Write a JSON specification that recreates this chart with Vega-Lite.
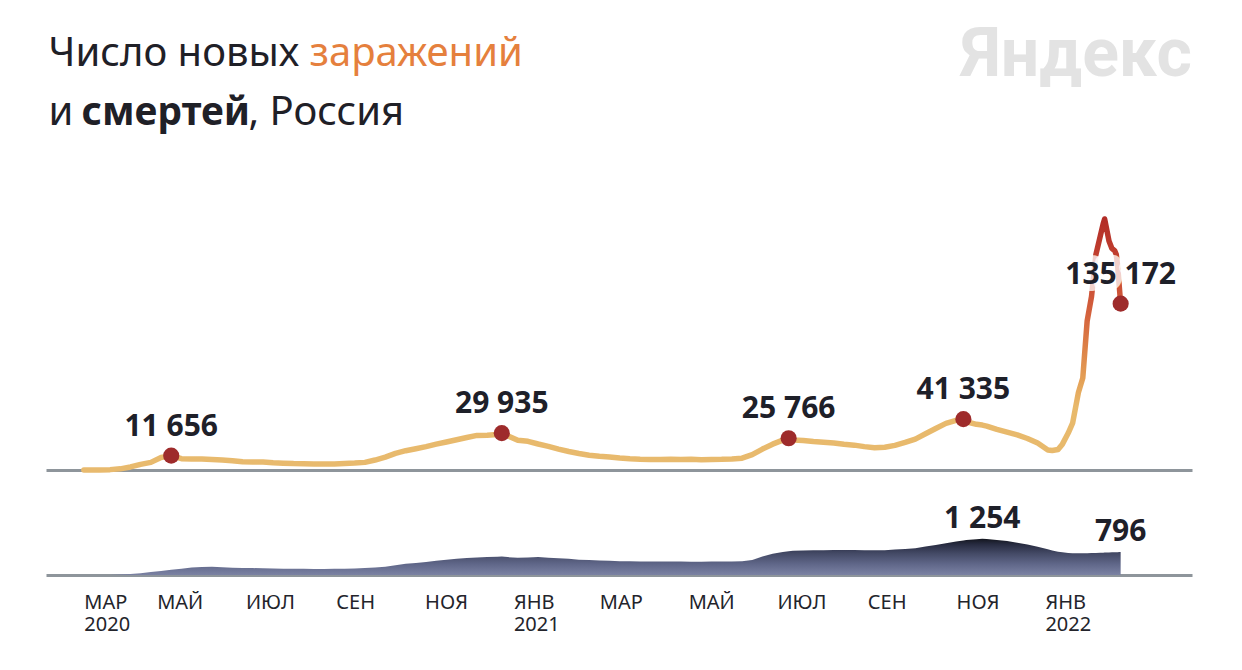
{
  "$schema": "https://vega.github.io/schema/vega-lite/v6.json",
  "background": "white",
  "padding": {"left": 46, "top": 22, "right": 10, "bottom": 5},
  "bounds": "flush",
  "spacing": 30,
  "config": {
    "view": {"stroke": null},
    "font": "Noto Sans",
    "locale": {"number": {"decimal": ",", "thousands": "\u00a0", "grouping": [3], "currency": ["", ""]}}
  },
  "datasets": {
    "series": [
      {"date": "2020-03-12", "cases": 10, "deaths": 0},
      {"date": "2020-03-16", "cases": 25, "deaths": 0},
      {"date": "2020-03-23", "cases": 70, "deaths": 1},
      {"date": "2020-03-30", "cases": 300, "deaths": 3},
      {"date": "2020-04-06", "cases": 950, "deaths": 15},
      {"date": "2020-04-13", "cases": 2500, "deaths": 35},
      {"date": "2020-04-20", "cases": 4600, "deaths": 60},
      {"date": "2020-04-27", "cases": 6200, "deaths": 100},
      {"date": "2020-05-04", "cases": 10100, "deaths": 140},
      {"date": "2020-05-11", "cases": 11656, "deaths": 180},
      {"date": "2020-05-18", "cases": 9200, "deaths": 220},
      {"date": "2020-05-25", "cases": 8900, "deaths": 260},
      {"date": "2020-06-01", "cases": 9000, "deaths": 280},
      {"date": "2020-06-08", "cases": 8600, "deaths": 285},
      {"date": "2020-06-15", "cases": 8200, "deaths": 270},
      {"date": "2020-06-22", "cases": 7600, "deaths": 250},
      {"date": "2020-06-29", "cases": 6700, "deaths": 245},
      {"date": "2020-07-06", "cases": 6600, "deaths": 240},
      {"date": "2020-07-13", "cases": 6500, "deaths": 230},
      {"date": "2020-07-20", "cases": 5900, "deaths": 225},
      {"date": "2020-07-27", "cases": 5500, "deaths": 220},
      {"date": "2020-08-03", "cases": 5200, "deaths": 215},
      {"date": "2020-08-10", "cases": 5100, "deaths": 215},
      {"date": "2020-08-17", "cases": 4900, "deaths": 210},
      {"date": "2020-08-24", "cases": 4800, "deaths": 210},
      {"date": "2020-08-31", "cases": 4900, "deaths": 215},
      {"date": "2020-09-07", "cases": 5200, "deaths": 215},
      {"date": "2020-09-14", "cases": 5600, "deaths": 225},
      {"date": "2020-09-21", "cases": 6200, "deaths": 240},
      {"date": "2020-09-28", "cases": 8100, "deaths": 260},
      {"date": "2020-10-05", "cases": 10500, "deaths": 290},
      {"date": "2020-10-12", "cases": 13500, "deaths": 340},
      {"date": "2020-10-19", "cases": 15700, "deaths": 390},
      {"date": "2020-10-26", "cases": 17300, "deaths": 420},
      {"date": "2020-11-02", "cases": 19000, "deaths": 455},
      {"date": "2020-11-09", "cases": 21000, "deaths": 490},
      {"date": "2020-11-16", "cases": 22800, "deaths": 530},
      {"date": "2020-11-23", "cases": 24600, "deaths": 560},
      {"date": "2020-11-30", "cases": 26400, "deaths": 590},
      {"date": "2020-12-07", "cases": 28100, "deaths": 610},
      {"date": "2020-12-14", "cases": 28200, "deaths": 625},
      {"date": "2020-12-21", "cases": 28900, "deaths": 635},
      {"date": "2020-12-24", "cases": 29935, "deaths": 645},
      {"date": "2020-12-28", "cases": 27800, "deaths": 620},
      {"date": "2021-01-04", "cases": 24200, "deaths": 600},
      {"date": "2021-01-11", "cases": 23300, "deaths": 610},
      {"date": "2021-01-18", "cases": 21100, "deaths": 620},
      {"date": "2021-01-25", "cases": 19200, "deaths": 600},
      {"date": "2021-02-01", "cases": 17000, "deaths": 580},
      {"date": "2021-02-08", "cases": 15000, "deaths": 560},
      {"date": "2021-02-15", "cases": 13400, "deaths": 530},
      {"date": "2021-02-22", "cases": 12000, "deaths": 520},
      {"date": "2021-03-01", "cases": 11200, "deaths": 500},
      {"date": "2021-03-08", "cases": 10600, "deaths": 490},
      {"date": "2021-03-15", "cases": 9800, "deaths": 480},
      {"date": "2021-03-22", "cases": 9200, "deaths": 480},
      {"date": "2021-03-29", "cases": 8800, "deaths": 470},
      {"date": "2021-04-05", "cases": 8600, "deaths": 465},
      {"date": "2021-04-12", "cases": 8500, "deaths": 465},
      {"date": "2021-04-19", "cases": 8700, "deaths": 470},
      {"date": "2021-04-26", "cases": 8500, "deaths": 470},
      {"date": "2021-05-03", "cases": 8800, "deaths": 460},
      {"date": "2021-05-10", "cases": 8300, "deaths": 460},
      {"date": "2021-05-17", "cases": 8600, "deaths": 465},
      {"date": "2021-05-24", "cases": 8700, "deaths": 470},
      {"date": "2021-05-31", "cases": 9000, "deaths": 470},
      {"date": "2021-06-07", "cases": 9600, "deaths": 475},
      {"date": "2021-06-14", "cases": 12500, "deaths": 520},
      {"date": "2021-06-21", "cases": 17000, "deaths": 640},
      {"date": "2021-06-28", "cases": 21000, "deaths": 740},
      {"date": "2021-07-05", "cases": 24300, "deaths": 800},
      {"date": "2021-07-09", "cases": 25766, "deaths": 820},
      {"date": "2021-07-12", "cases": 24400, "deaths": 840},
      {"date": "2021-07-19", "cases": 24000, "deaths": 850},
      {"date": "2021-07-26", "cases": 23200, "deaths": 860},
      {"date": "2021-08-02", "cases": 22600, "deaths": 860},
      {"date": "2021-08-09", "cases": 22000, "deaths": 865},
      {"date": "2021-08-16", "cases": 21000, "deaths": 865},
      {"date": "2021-08-23", "cases": 20200, "deaths": 865},
      {"date": "2021-08-30", "cases": 19000, "deaths": 860},
      {"date": "2021-09-06", "cases": 18000, "deaths": 860},
      {"date": "2021-09-13", "cases": 18500, "deaths": 860},
      {"date": "2021-09-20", "cases": 20000, "deaths": 880},
      {"date": "2021-09-27", "cases": 22400, "deaths": 900},
      {"date": "2021-10-04", "cases": 25100, "deaths": 930},
      {"date": "2021-10-11", "cases": 29400, "deaths": 990},
      {"date": "2021-10-18", "cases": 33700, "deaths": 1040},
      {"date": "2021-10-25", "cases": 37900, "deaths": 1100},
      {"date": "2021-11-01", "cases": 40400, "deaths": 1160},
      {"date": "2021-11-06", "cases": 41335, "deaths": 1200},
      {"date": "2021-11-08", "cases": 39200, "deaths": 1210},
      {"date": "2021-11-15", "cases": 37100, "deaths": 1240},
      {"date": "2021-11-19", "cases": 36500, "deaths": 1254},
      {"date": "2021-11-22", "cases": 35700, "deaths": 1245},
      {"date": "2021-11-29", "cases": 33000, "deaths": 1215},
      {"date": "2021-12-06", "cases": 30700, "deaths": 1175},
      {"date": "2021-12-13", "cases": 28500, "deaths": 1120},
      {"date": "2021-12-20", "cases": 25600, "deaths": 1060},
      {"date": "2021-12-27", "cases": 21900, "deaths": 980},
      {"date": "2022-01-03", "cases": 16300, "deaths": 890},
      {"date": "2022-01-06", "cases": 15800, "deaths": 850},
      {"date": "2022-01-10", "cases": 16600, "deaths": 810},
      {"date": "2022-01-13", "cases": 21000, "deaths": 785},
      {"date": "2022-01-17", "cases": 30000, "deaths": 765},
      {"date": "2022-01-20", "cases": 38000, "deaths": 755},
      {"date": "2022-01-24", "cases": 63000, "deaths": 750},
      {"date": "2022-01-27", "cases": 74700, "deaths": 750},
      {"date": "2022-01-30", "cases": 121000, "deaths": 755},
      {"date": "2022-02-02", "cases": 141000, "deaths": 760},
      {"date": "2022-02-05", "cases": 175000, "deaths": 765},
      {"date": "2022-02-08", "cases": 190000, "deaths": 770},
      {"date": "2022-02-10", "cases": 200000, "deaths": 775},
      {"date": "2022-02-11", "cases": 203949, "deaths": 778},
      {"date": "2022-02-12", "cases": 198000, "deaths": 780},
      {"date": "2022-02-14", "cases": 186000, "deaths": 782},
      {"date": "2022-02-16", "cases": 180000, "deaths": 785},
      {"date": "2022-02-18", "cases": 178000, "deaths": 788},
      {"date": "2022-02-19", "cases": 175000, "deaths": 790},
      {"date": "2022-02-20", "cases": 165000, "deaths": 792},
      {"date": "2022-02-21", "cases": 150000, "deaths": 794},
      {"date": "2022-02-22", "cases": 135172, "deaths": 796}
    ],
    "casePeaks": [
      {"date": "2020-05-11", "cases": 11656},
      {"date": "2020-12-24", "cases": 29935},
      {"date": "2021-07-09", "cases": 25766},
      {"date": "2021-11-06", "cases": 41335},
      {"date": "2022-02-22", "cases": 135172}
    ],
    "deathPeaks": [
      {"date": "2021-11-19", "deaths": 1254},
      {"date": "2022-02-22", "deaths": 796}
    ]
  },
  "vconcat": [
    {
      "width": 1146,
      "height": 320,
      "title": {"text": "Яндекс", "anchor": "end", "frame": "group", "offset": -57, "font": "Roboto", "fontSize": 68, "fontWeight": "bold", "color": "#e3e3e3"},
      "layer": [
        {
          "data": {"name": "series"},
          "mark": {
            "type": "line", "strokeWidth": 5.5, "strokeCap": "round", "strokeJoin": "round",
            "stroke": {"gradient": "linear", "x1": 0, "y1": 1, "x2": 0, "y2": 0,
              "stops": [
                {"offset": 0, "color": "#e8ba6e"},
                {"offset": 0.25, "color": "#e8b96b"},
                {"offset": 0.36, "color": "#e4a056"},
                {"offset": 0.5, "color": "#dc7e46"},
                {"offset": 0.62, "color": "#d4623d"},
                {"offset": 0.8, "color": "#c64532"},
                {"offset": 1, "color": "#b22d27"}
              ]}
          },
          "encoding": {
            "x": {"field": "date", "type": "temporal",
              "scale": {"domain": [{"year": 2020, "month": 2, "date": 15}, {"year": 2022, "month": 4, "date": 12}]},
              "axis": {"title": "заражений", "titleX": 263, "titleY": -405, "titleAngle": 0, "titleAlign": "left", "titleBaseline": "alphabetic",
                "titleFont": "Noto Sans", "titleFontSize": 40, "titleFontWeight": "normal", "titleColor": "#e5803d",
                "labels": false, "ticks": false, "grid": false, "domain": true, "domainColor": "#8e959b", "domainWidth": 3}},
            "y": {"field": "cases", "type": "quantitative",
              "scale": {"domain": [0, 250000]},
              "axis": {"title": ["Число новых", "и"], "titleX": 2, "titleY": -85, "titleAngle": 0, "titleAlign": "left", "titleBaseline": "alphabetic",
                "titleLineHeight": 59, "titleFont": "Noto Sans", "titleFontSize": 40, "titleFontWeight": "normal", "titleColor": "#1f2027",
                "labels": false, "ticks": false, "grid": false, "domain": false}}
          }
        },
        {
          "data": {"name": "casePeaks"},
          "mark": {"type": "text", "dy": -20, "baseline": "alphabetic", "align": "center", "font": "Noto Sans", "fontSize": 30, "fontWeight": "bold",
            "fill": "white", "stroke": "white", "strokeWidth": 14, "strokeOpacity": 0.75, "fillOpacity": 0.75, "strokeJoin": "round"},
          "encoding": {
            "x": {"field": "date", "type": "temporal"},
            "y": {"field": "cases", "type": "quantitative"},
            "text": {"field": "cases", "type": "quantitative", "format": ",d"}
          }
        },
        {
          "data": {"name": "casePeaks"},
          "mark": {"type": "circle", "size": 260, "color": "#9e2b2b", "opacity": 1},
          "encoding": {
            "x": {"field": "date", "type": "temporal"},
            "y": {"field": "cases", "type": "quantitative"}
          }
        },
        {
          "data": {"name": "casePeaks"},
          "mark": {"type": "text", "dy": -20, "baseline": "alphabetic", "align": "center", "font": "Noto Sans", "fontSize": 30, "fontWeight": "bold", "color": "#1e2029"},
          "encoding": {
            "x": {"field": "date", "type": "temporal"},
            "y": {"field": "cases", "type": "quantitative"},
            "text": {"field": "cases", "type": "quantitative", "format": ",d"}
          }
        }
      ]
    },
    {
      "width": 1146,
      "height": 75,
      "layer": [
        {
          "data": {"name": "series"},
          "mark": {
            "type": "area",
            "fill": {"gradient": "linear", "x1": 0, "y1": 1, "x2": 0, "y2": 0,
              "stops": [
                {"offset": 0, "color": "#7b82a3"},
                {"offset": 0.3, "color": "#606789"},
                {"offset": 0.6, "color": "#434965"},
                {"offset": 0.85, "color": "#272b40"},
                {"offset": 1, "color": "#14161f"}
              ]}
          },
          "encoding": {
            "x": {"field": "date", "type": "temporal",
              "scale": {"domain": [{"year": 2020, "month": 2, "date": 15}, {"year": 2022, "month": 4, "date": 12}]},
              "axis": {"title": ", Россия", "titleX": 202, "titleY": -451, "titleAngle": 0, "titleAlign": "left", "titleBaseline": "alphabetic",
                "titleFont": "Noto Sans", "titleFontSize": 40, "titleFontWeight": "normal", "titleColor": "#1f2027",
                "grid": false, "ticks": false, "tickSize": 0, "domain": true, "domainColor": "#8e959b", "domainWidth": 3,
                "values": [
                  {"year": 2020, "month": 3, "date": 12},
                  {"year": 2020, "month": 5, "date": 1},
                  {"year": 2020, "month": 7, "date": 1},
                  {"year": 2020, "month": 9, "date": 1},
                  {"year": 2020, "month": 11, "date": 1},
                  {"year": 2021, "month": 1, "date": 1},
                  {"year": 2021, "month": 3, "date": 1},
                  {"year": 2021, "month": 5, "date": 1},
                  {"year": 2021, "month": 7, "date": 1},
                  {"year": 2021, "month": 9, "date": 1},
                  {"year": 2021, "month": 11, "date": 1},
                  {"year": 2022, "month": 1, "date": 1}
                ],
                "labelExpr": "(month(datum.value) == 0 || (year(datum.value) == 2020 && month(datum.value) == 2)) ? [['ЯНВ','ФЕВ','МАР','АПР','МАЙ','ИЮН','ИЮЛ','АВГ','СЕН','ОКТ','НОЯ','ДЕК'][month(datum.value)], '' + year(datum.value)] : ['ЯНВ','ФЕВ','МАР','АПР','МАЙ','ИЮН','ИЮЛ','АВГ','СЕН','ОКТ','НОЯ','ДЕК'][month(datum.value)]",
                "labelAlign": "left", "labelBaseline": "top", "labelPadding": 17, "labelLineHeight": 22, "labelOverlap": false, "labelFlush": false,
                "labelFont": "Noto Sans", "labelFontSize": 20, "labelColor": "#23242b"}},
            "y": {"field": "deaths", "type": "quantitative",
              "scale": {"domain": [0, 2475]},
              "axis": {"title": "смертей", "titleX": 35, "titleY": -376, "titleAngle": 0, "titleAlign": "left", "titleBaseline": "alphabetic",
                "titleFont": "Noto Sans", "titleFontSize": 39, "titleFontWeight": "bold", "titleColor": "#1f2027",
                "labels": false, "ticks": false, "grid": false, "domain": false}}
          }
        },
        {
          "data": {"name": "deathPeaks"},
          "mark": {"type": "text", "dy": -11, "baseline": "alphabetic", "align": "center", "font": "Noto Sans", "fontSize": 30, "fontWeight": "bold", "color": "#1e2029"},
          "encoding": {
            "x": {"field": "date", "type": "temporal"},
            "y": {"field": "deaths", "type": "quantitative"},
            "text": {"field": "deaths", "type": "quantitative", "format": ",d"}
          }
        }
      ]
    }
  ]
}
